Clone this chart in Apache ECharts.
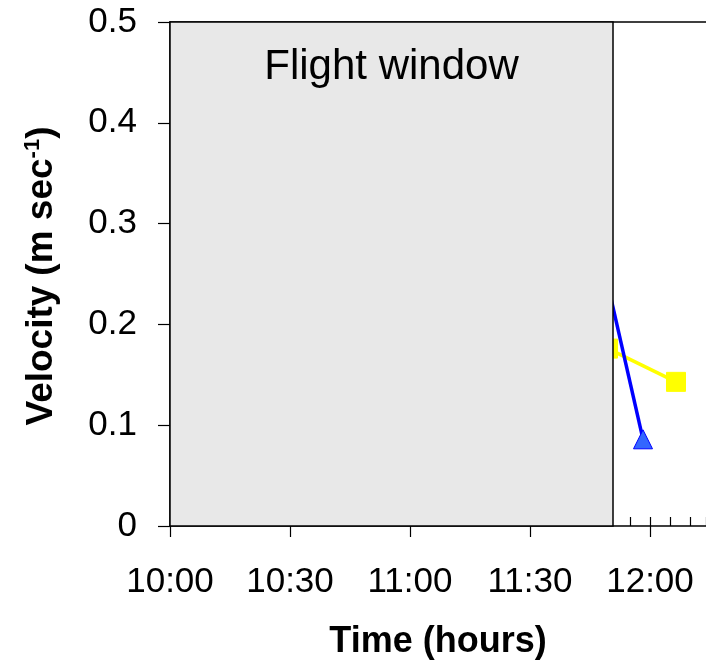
<!DOCTYPE html>
<html>
<head>
<meta charset="utf-8">
<script src="https://cdn.jsdelivr.net/npm/echarts@6/dist/echarts.min.js"></script>
<style>html,body{margin:0;padding:0;background:#fff}#c{width:706px;height:665px}</style>
</head>
<body>
<div id="c"></div>
<script>
// minutes since 10:00
const xMin = 0, xMax = 134;
const xTickMinutes = [0, 30, 60, 90, 120];
const xTickLabels = ['10:00', '10:30', '11:00', '11:30', '12:00'];
const yTicks = [0, 0.1, 0.2, 0.3, 0.4, 0.5];
const flightWindow = [0, 110.75];
const flightLabel = 'Flight window';
const yellowTimes = [109.5, 126.5];
const yellowValues = [0.176, 0.143];
const blueTimes = [108, 118.25];
const blueValues = [0.265, 0.086];

const FONT = '"Liberation Sans", Arial, sans-serif';
const chart = echarts.init(document.getElementById('c'));
const labelFor = v => {
  const i = xTickMinutes.indexOf(Math.round(v));
  return i >= 0 ? xTickLabels[i] : '';
};
chart.setOption({
  animation: false,
  grid: {left: 170, right: 0, top: 22, bottom: 137, containLabel: false},
  xAxis: [
    {
      type: 'value', min: xMin, max: xMax, interval: 30, position: 'bottom',
      axisLine: {show: true, onZero: false, lineStyle: {color: '#000', width: 1.5}},
      axisTick: {show: true, inside: false, length: 11, lineStyle: {color: '#000', width: 1.2}},
      axisLabel: {formatter: labelFor, color: '#000', fontSize: 35, fontFamily: FONT, margin: 39, showMaxLabel: false},
      splitLine: {show: false},
      name: 'Time (hours)', nameLocation: 'middle', nameGap: 98,
      nameTextStyle: {color: '#000', fontSize: 36, fontWeight: 'bold', fontFamily: FONT}
    },
    {
      type: 'value', min: xMin, max: xMax, interval: 5, position: 'bottom',
      axisLine: {show: false},
      axisTick: {show: true, inside: true, length: 9, lineStyle: {color: '#000', width: 1.2}},
      axisLabel: {show: false}, splitLine: {show: false}
    },
    {
      type: 'value', min: xMin, max: xMax, position: 'top',
      axisLine: {show: true, lineStyle: {color: '#000', width: 1.5}},
      axisTick: {show: false}, axisLabel: {show: false}, splitLine: {show: false}
    }
  ],
  yAxis: {
    type: 'value', min: 0, max: 0.5, interval: 0.1,
    axisLine: {show: true, lineStyle: {color: '#000', width: 1.5}},
    axisTick: {show: true, inside: false, length: 12, lineStyle: {color: '#000', width: 1.2}},
    axisLabel: {formatter: v => (yTicks.indexOf(Math.round(v * 10) / 10) >= 0 ? (v === 0 ? '0' : v.toFixed(1)) : ''), color: '#000', fontSize: 35, fontFamily: FONT, margin: 33},
    splitLine: {show: false},
    name: '{a|Velocity}{s| }{a|(m sec}{b|-1}{a|)}', nameLocation: 'middle', nameGap: 108, nameRotate: 90,
    nameTextStyle: {
      padding: [0, 4, 0, 0],
      rich: {
        a: {color: '#000', fontSize: 37, fontWeight: 'bold', fontFamily: FONT},
        s: {color: '#000', fontSize: 37, fontWeight: 'bold', fontFamily: FONT, width: 10},
        b: {color: '#000', fontSize: 22, fontWeight: 'bold', fontFamily: FONT, verticalAlign: 'top', padding: [0, 0, 18, 0]}
      }
    }
  },
  series: [
    {
      type: 'line', z: 2, xAxisIndex: 0,
      data: yellowTimes.map((t, i) => [t, yellowValues[i]]),
      symbol: 'rect', symbolSize: 19,
      lineStyle: {color: '#ffff00', width: 3.5},
      itemStyle: {color: '#ffff00', borderColor: '#ffff00'}
    },
    {
      type: 'line', z: 3, xAxisIndex: 0,
      data: blueTimes.map((t, i) => [t, blueValues[i]]),
      symbol: 'triangle', symbolSize: 19,
      lineStyle: {color: '#0000ff', width: 3.5},
      itemStyle: {color: '#3366ff', borderColor: '#0000ff', borderWidth: 1}
    },
    {
      type: 'line', z: 10, xAxisIndex: 0, data: [], silent: true,
      markArea: {
        silent: true, z: 10,
        itemStyle: {color: '#e8e8e8', borderColor: '#000', borderWidth: 1.5},
        label: {show: true, position: 'insideTop', distance: 25, color: '#000', fontSize: 42, fontFamily: FONT},
        data: [[{xAxis: flightWindow[0], yAxis: 0, name: flightLabel}, {xAxis: flightWindow[1], yAxis: 0.5}]]
      }
    }
  ]
});
</script>
</body>
</html>
